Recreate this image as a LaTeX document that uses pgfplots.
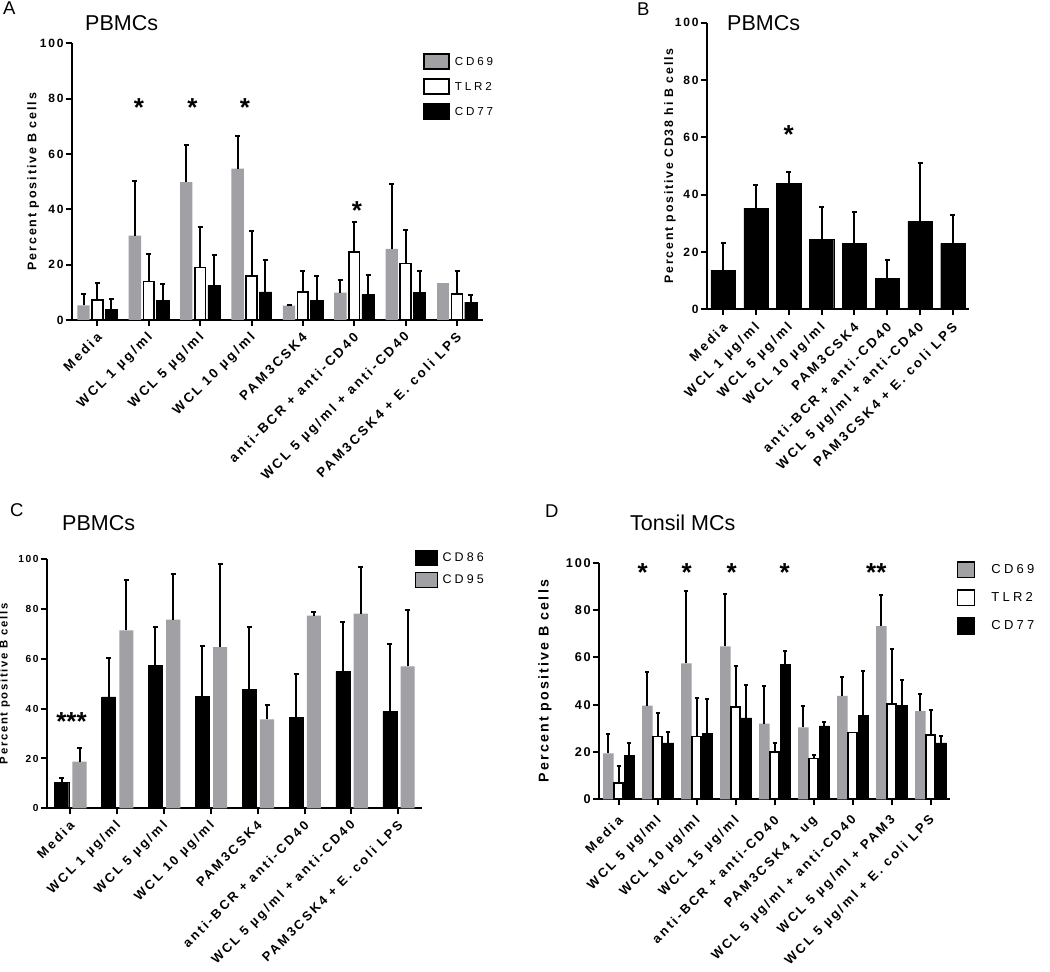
\documentclass[border=0pt]{standalone}
\usepackage{pgfplots}
\pgfplotsset{compat=1.18}
\usepackage{fontspec}
\setmainfont{Liberation Sans}
\newfontfamily\lsb[LetterSpace=15]{Liberation Sans}
\newfontfamily\lsx[LetterSpace=19]{Liberation Sans}
\newfontfamily\lsl[LetterSpace=25]{Liberation Sans}
\definecolor{bargray}{RGB}{160,160,165}
\newcommand{\fs}[1]{\fontsize{#1}{#1}\selectfont}

\pgfplotsset{
  panel/.style={
    scale only axis, axis lines*=left, axis line style={-, line width=2.2pt},
    ymin=0, ymax=100, ytick={0,20,40,60,80,100},
    xmin=-0.5, enlargelimits=false, clip=false,
    tick align=outside, major tick length=6pt,
    tick style={black, line width=2pt},
    ybar,
    /pgf/number format/assume math mode=true,
    yticklabel style={inner sep=2pt},
    ylabel style={at={(axis description cs:#1,0.5)}, anchor=center},
    error bars/y dir=plus, error bars/y explicit,
    error bars/error bar style={line width=2pt, black},
    error bars/error mark options={line width=2pt, black, mark size=2.5pt, rotate=90},
  },
  gbar/.style={fill=bargray, draw=none},
  wbar/.style={fill=white, draw=black, line width=1.6pt},
  kbar/.style={fill=black, draw=black},
}

\begin{document}
\begin{tikzpicture}[x=1pt,y=1pt]
\path[use as bounding box] (0,0) rectangle (1050,972);
\coordinate (pA) at (71.7,652);
\coordinate (pB) at (706.7,662.7);
\coordinate (pC) at (46.7,163.7);
\coordinate (pD) at (599,172.7);

% ---------------- Panel A ----------------
\begin{axis}[panel=-0.094, at={(pA)}, anchor=south west,
  width=411pt, height=276.7pt, xmax=7.5, xtick={0,...,7},
  xticklabels={Media, WCL 1 µg/ml, WCL 5 µg/ml, WCL 10 µg/ml, PAM3CSK4, anti-BCR + anti-CD40, WCL 5 µg/ml + anti-CD40, PAM3CSK4 + E. coli LPS},
  yticklabel style={font=\lsb\bfseries\fs{12}},
  xticklabel style={font=\lsx\bfseries\fs{13.3}, yshift=-9pt, xshift=2pt, rotate=45, anchor=east, inner sep=0pt},
  ylabel={Percent positive B cells}, ylabel style={font=\lsb\bfseries\fs{12.5}},
  legend style={at={(axis description cs:0.855,0.964)}, anchor=north west, draw=none, fill=none,
    inner sep=0pt, row sep=8.5pt, font=\lsl\fs{11.6}, nodes={inner xsep=5pt, inner ysep=0pt}},
  legend cell align=left,
  legend image code/.code={\draw[#1, line width=1.5pt] (0pt,-7.5pt) rectangle (25pt,7.5pt);},
]
\addplot[gbar, bar width=0.24, bar shift=-0.27] coordinates {
 (0,5.3) +- (0,4.0) (1,30.5) +- (0,19.7) (2,49.8) +- (0,13.6) (3,54.7) +- (0,11.8)
 (4,5.2) +- (0,0.1) (5,9.9) +- (0,4.7) (6,25.7) +- (0,23.3)};
\addplot[wbar, bar width=0.21, bar shift=0] coordinates {
 (0,7.2) +- (0,6.3) (1,13.9) +- (0,10.0) (2,18.9) +- (0,14.6) (3,15.8) +- (0,16.2)
 (4,10.1) +- (0,7.7) (5,24.5) +- (0,11.0) (6,20.4) +- (0,12.3) (7,9.5) +- (0,8.3)};
\addplot[kbar, bar width=0.24, bar shift=0.27] coordinates {
 (0,3.9) +- (0,3.6) (1,7.2) +- (0,5.7) (2,12.5) +- (0,11.0) (3,10.2) +- (0,11.5)
 (4,7.2) +- (0,8.8) (5,9.2) +- (0,6.9) (6,9.9) +- (0,7.8) (7,6.5) +- (0,2.5)};
\addplot[gbar, bar width=0.24, bar shift=-0.27, forget plot] coordinates {(7,13.4)};
\legend{CD69, TLR2, CD77}
\node[font=\bfseries\fs{26}, anchor=north, inner sep=0pt] at (axis cs:0.81,80) {*};
\node[font=\bfseries\fs{26}, anchor=north, inner sep=0pt] at (axis cs:1.85,80) {*};
\node[font=\bfseries\fs{26}, anchor=north, inner sep=0pt] at (axis cs:2.87,80) {*};
\node[font=\bfseries\fs{26}, anchor=north, inner sep=0pt] at (axis cs:5.05,43) {*};
\end{axis}

% ---------------- Panel B ----------------
\begin{axis}[panel=-0.14, at={(pB)}, anchor=south west,
  width=262.6pt, height=286.6pt, xmax=7.5, xtick={0,...,7},
  xticklabels={Media, WCL 1 µg/ml, WCL 5 µg/ml, WCL 10 µg/ml, PAM3CSK4, anti-BCR + anti-CD40, WCL 5 µg/ml + anti-CD40, PAM3CSK4 + E. coli LPS},
  yticklabel style={font=\lsb\bfseries\fs{12}},
  xticklabel style={font=\lsx\bfseries\fs{13.2}, yshift=-10pt, xshift=2pt, rotate=45, anchor=east, inner sep=0pt},
  ylabel={Percent positive CD38 hi B cells}, ylabel style={font=\lsb\bfseries\fs{12.3}},
]
\addplot[kbar, bar width=0.74, bar shift=0] coordinates {
 (0,13.7) +- (0,9.3) (1,35.2) +- (0,8.2) (2,44.0) +- (0,3.8) (3,24.4) +- (0,11.2)
 (4,23.0) +- (0,11.0) (5,10.8) +- (0,6.3) (6,30.7) +- (0,20.2) (7,23.0) +- (0,9.9)};
\node[font=\bfseries\fs{26}, anchor=north, inner sep=0pt] at (axis cs:2,64) {*};
\end{axis}

% ---------------- Panel C ----------------
\begin{axis}[panel=-0.112, at={(pC)}, anchor=south west,
  width=375pt, height=249pt, xmax=7.5, xtick={0,...,7},
  xticklabels={Media, WCL 1 µg/ml, WCL 5 µg/ml, WCL 10 µg/ml, PAM3CSK4, anti-BCR + anti-CD40, WCL 5 µg/ml + anti-CD40, PAM3CSK4 + E. coli LPS},
  yticklabel style={font=\lsb\bfseries\fs{10.2}},
  xticklabel style={font=\lsx\bfseries\fs{12.9}, yshift=-9pt, xshift=2pt, rotate=45, anchor=east, inner sep=0pt},
  ylabel={Percent positive B cells}, ylabel style={font=\lsb\bfseries\fs{11.3}},
  legend style={at={(axis description cs:0.982,1.04)}, anchor=north west, draw=none, fill=none,
    inner sep=0pt, row sep=6pt, font=\lsl\fs{12.5}, nodes={inner xsep=5pt, inner ysep=0pt}},
  legend cell align=left,
  legend image code/.code={\draw[#1] (0pt,-7.8pt) rectangle (22pt,7.8pt);},
]
\addplot[kbar, bar width=0.3, bar shift=-0.18] coordinates {
 (0,10.3) +- (0,1.7) (1,44.7) +- (0,15.5) (2,57.4) +- (0,15.4) (3,45.0) +- (0,20.3)
 (4,47.8) +- (0,25.0) (5,36.5) +- (0,17.4) (6,55.0) +- (0,19.7) (7,38.8) +- (0,27.2)};
\addplot[gbar, bar width=0.3, bar shift=0.2] coordinates {
 (0,18.7) +- (0,5.7) (1,71.5) +- (0,20.3) (2,75.8) +- (0,18.4) (3,64.7) +- (0,33.6)
 (4,35.7) +- (0,5.7) (5,77.4) +- (0,1.6) (6,78.2) +- (0,18.7) (7,57.0) +- (0,22.5)};
\legend{CD86, CD95}
\node[font=\bfseries\fs{26}, anchor=north, inner sep=0pt] at (axis cs:0.03,38.5) {***};
\end{axis}

% ---------------- Panel D ----------------
\begin{axis}[panel=-0.154, at={(pD)}, anchor=south west,
  width=351pt, height=236.6pt, xmax=8.5, xtick={0,...,8},
  xticklabels={Media, WCL 5 µg/ml, WCL 10 µg/ml, WCL 15 µg/ml, anti-BCR + anti-CD40, PAM3CSK4 1 ug, WCL 5 µg/ml + anti-CD40, WCL 5 µg/ml + PAM3, WCL 5 µg/ml + E. coli LPS},
  yticklabel style={font=\lsb\bfseries\fs{12.7}},
  xticklabel style={font=\lsx\bfseries\fs{13}, yshift=-13pt, xshift=2pt, rotate=45, anchor=east, inner sep=0pt},
  ylabel={Percent positive B cells}, ylabel style={font=\lsb\bfseries\fs{14.2}},
  legend style={at={(axis description cs:1.019,1.007)}, anchor=north west, draw=none, fill=none,
    inner sep=0pt, row sep=11pt, font=\lsl\fs{13}, nodes={inner xsep=16pt, inner ysep=0pt}},
  legend cell align=left,
  legend image code/.code={\draw[#1, line width=1.5pt] (0pt,-7.8pt) rectangle (17pt,7.8pt);},
  error bars/error mark options={line width=2pt, black, mark size=2pt, rotate=90},
]
\addplot[gbar, bar width=0.27, bar shift=-0.26] coordinates {
 (0,19.4) +- (0,8.1) (1,39.6) +- (0,14.2) (2,57.5) +- (0,30.5) (3,64.6) +- (0,22.2)
 (4,32.0) +- (0,15.9) (5,30.4) +- (0,9.2) (6,43.7) +- (0,8.0) (7,73.2) +- (0,13.3) (8,37.3) +- (0,7.2)};
\addplot[wbar, bar width=0.23, bar shift=0] coordinates {
 (0,7.0) +- (0,7.2) (1,26.6) +- (0,10.0) (2,26.6) +- (0,16.1) (3,39.0) +- (0,17.5)
 (4,19.9) +- (0,4.0) (5,17.3) +- (0,1.4) (7,40.4) +- (0,23.0) (8,27.2) +- (0,10.5)};
\addplot[kbar, bar width=0.27, bar shift=0.28] coordinates {
 (0,18.6) +- (0,5.2) (1,23.9) +- (0,4.7) (2,28.0) +- (0,14.5) (3,34.4) +- (0,14.1)
 (4,57.0) +- (0,5.8) (5,31.0) +- (0,1.8) (6,35.4) +- (0,19.0) (7,39.6) +- (0,10.8) (8,23.9) +- (0,3.0)};
\addplot[wbar, bar width=0.23, bar shift=0, forget plot] coordinates {(6,28.2)};
\legend{CD69, TLR2, CD77}
\node[font=\bfseries\fs{26}, anchor=north, inner sep=0pt] at (axis cs:0.62,99.5) {*};
\node[font=\bfseries\fs{26}, anchor=north, inner sep=0pt] at (axis cs:1.75,99.5) {*};
\node[font=\bfseries\fs{26}, anchor=north, inner sep=0pt] at (axis cs:2.90,99.5) {*};
\node[font=\bfseries\fs{26}, anchor=north, inner sep=0pt] at (axis cs:4.26,99.5) {*};
\node[font=\bfseries\fs{26}, anchor=north, inner sep=0pt] at (axis cs:6.61,99.5) {**};
\end{axis}

% ---------------- titles and panel letters ----------------
\node[anchor=west, font=\fs{21.5}, inner sep=0pt] at (85,949) {PBMCs};
\node[anchor=west, font=\fs{21.5}, inner sep=0pt] at (727,949) {PBMCs};
\node[anchor=west, font=\fs{21.5}, inner sep=0pt] at (62,449) {PBMCs};
\node[anchor=west, font=\fs{21.5}, inner sep=0pt] at (630,449) {Tonsil MCs};
\node[anchor=north west, font=\fs{18.5}, inner sep=0pt] at (3,970) {A};
\node[anchor=north west, font=\fs{18.5}, inner sep=0pt] at (637,969) {B};
\node[anchor=north west, font=\fs{18.5}, inner sep=0pt] at (10,469) {C};
\node[anchor=north west, font=\fs{18.5}, inner sep=0pt] at (545,467) {D};
\end{tikzpicture}
\end{document}
